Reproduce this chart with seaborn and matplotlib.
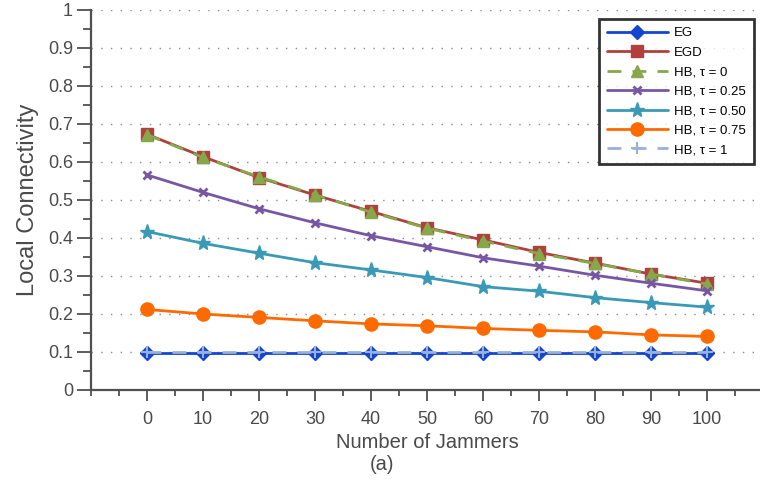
import matplotlib
matplotlib.use("Agg")
import matplotlib.pyplot as plt
import numpy as np
import pandas as pd
import seaborn as sns
from matplotlib.ticker import MultipleLocator, FixedLocator

# Number of jammers on the x axis
jammers = [0, 10, 20, 30, 40, 50, 60, 70, 80, 90, 100]

# Local connectivity for each scheme
eg = [0.098, 0.098, 0.098, 0.098, 0.098, 0.098, 0.098, 0.098, 0.098, 0.098, 0.098]
egd = [0.673, 0.614, 0.559, 0.513, 0.470, 0.427, 0.395, 0.362, 0.334, 0.305, 0.281]
hb_tau_0 = [0.672, 0.612, 0.561, 0.514, 0.468, 0.426, 0.392, 0.359, 0.333, 0.305, 0.279]
hb_tau_025 = [0.566, 0.520, 0.477, 0.440, 0.406, 0.377, 0.348, 0.326, 0.302, 0.281, 0.261]
hb_tau_050 = [0.417, 0.386, 0.360, 0.335, 0.316, 0.296, 0.272, 0.260, 0.243, 0.230, 0.218]
hb_tau_075 = [0.212, 0.200, 0.191, 0.182, 0.174, 0.169, 0.162, 0.157, 0.153, 0.145, 0.141]
hb_tau_1 = [0.099, 0.099, 0.099, 0.099, 0.099, 0.099, 0.099, 0.099, 0.099, 0.099, 0.099]

series_names = ["EG", "EGD", "HB, τ = 0", "HB, τ = 0.25", "HB, τ = 0.50", "HB, τ = 0.75", "HB, τ = 1"]
series_values = [eg, egd, hb_tau_0, hb_tau_025, hb_tau_050, hb_tau_075, hb_tau_1]

y_ticks = [0, 0.1, 0.2, 0.3, 0.4, 0.5, 0.6, 0.7, 0.8, 0.9, 1]
y_tick_labels = ["0", "0.1", "0.2", "0.3", "0.4", "0.5", "0.6", "0.7", "0.8", "0.9", "1"]

styles = {
    "EG":           dict(color="#1445d0", marker="D", ms=7, ls="-", mew=1.0),
    "EGD":          dict(color="#b0403c", marker="s", ms=9, ls="-", mew=1.0),
    "HB, τ = 0":    dict(color="#86a84a", marker="^", ms=9, ls=(0, (5, 4)), mew=1.0),
    "HB, τ = 0.25": dict(color="#7757a3", marker="x", ms=6, ls="-", mew=2.0),
    "HB, τ = 0.50": dict(color="#3a9ab6", marker="*", ms=11, ls="-", mew=1.0),
    "HB, τ = 0.75": dict(color="#ff6a00", marker="o", ms=9.5, ls="-", mew=1.0),
    "HB, τ = 1":    dict(color="#98b1d9", marker="+", ms=9, ls=(0, (5, 4)), mew=1.5),
}

df = pd.DataFrame({
    "jammers": np.tile(jammers, len(series_names)),
    "value": np.concatenate(series_values),
    "series": np.repeat(series_names, len(jammers)),
})

sns.set_theme(style="white")
plt.rcParams["font.family"] = ["Liberation Sans", "DejaVu Sans"]

text_color = "#4a4a4a"
axis_color = "#505050"

fig = plt.figure(figsize=(7.6, 4.88), dpi=100)
ax = fig.add_axes([91 / 760, 98 / 488, 672 / 760, 380 / 488])

for name in series_names:
    st = styles[name]
    sub = df[df["series"] == name]
    sns.lineplot(data=sub, x="jammers", y="value", ax=ax, color=st["color"],
                 marker=st["marker"], markersize=st["ms"], linestyle=st["ls"],
                 linewidth=2.0, markeredgewidth=st["mew"],
                 markeredgecolor=st["color"], label=name, zorder=3)

ax.set_xlim(-10, 110)
ax.set_ylim(0, 1)

ax.xaxis.set_major_locator(FixedLocator(jammers))
ax.xaxis.set_minor_locator(MultipleLocator(5))
ax.yaxis.set_major_locator(FixedLocator(y_ticks))
ax.set_yticklabels(y_tick_labels)
ax.yaxis.set_minor_locator(MultipleLocator(0.05))

ax.tick_params(axis="x", which="major", direction="out", length=8, width=1.3,
               color=axis_color, labelsize=13, labelcolor=text_color, pad=7, bottom=True)
ax.tick_params(axis="x", which="minor", direction="out", length=4, width=1.3,
               color=axis_color, bottom=True)
ax.tick_params(axis="y", which="major", direction="out", length=10, width=1.3,
               color=axis_color, labelsize=13, labelcolor=text_color, pad=3, left=True)
ax.tick_params(axis="y", which="minor", direction="out", length=6, width=1.3,
               color=axis_color, left=True)

for side in ["top", "right"]:
    ax.spines[side].set_visible(False)
for side in ["left", "bottom"]:
    ax.spines[side].set_color(axis_color)
    ax.spines[side].set_linewidth(1.6)

# dotted horizontal guides at each major y tick
ax.grid(False)
for yv in y_ticks[1:]:
    ax.axhline(yv, color="#8c8c8c", linewidth=1.0, linestyle=(0, (1, 6)), zorder=1)

ax.set_xlabel("Number of Jammers", fontsize=14.5, color=text_color, labelpad=4)
ax.set_ylabel("Local Connectivity", fontsize=17, color=text_color, labelpad=6)
fig.text(0.5025, (488 - 465) / 488, "(a)", ha="center", va="center",
         fontsize=14.5, color=text_color)

leg = ax.legend(loc="upper right", bbox_to_anchor=(754 / 760, 469 / 488),
                bbox_transform=fig.transFigure, frameon=True, fancybox=False,
                fontsize=9.5, handlelength=4.6, handletextpad=0.5,
                labelspacing=0.55, borderpad=0.6, borderaxespad=0)
leg.get_frame().set_edgecolor("black")
leg.get_frame().set_linewidth(2.0)
for t in leg.get_texts():
    t.set_color("black")

fig.savefig("out.png", dpi=100)
